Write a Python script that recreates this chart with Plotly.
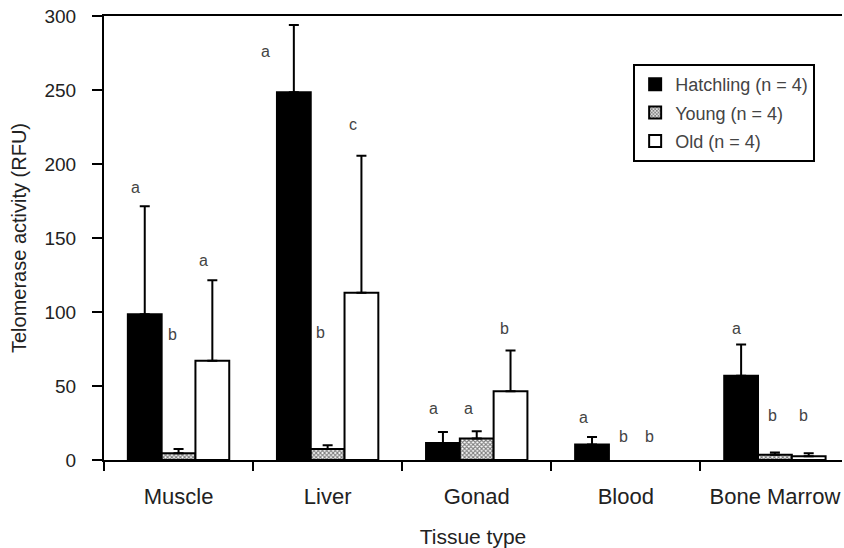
import plotly.graph_objects as go

tissues = ["Muscle", "Liver", "Gonad", "Blood", "Bone Marrow"]
series_names = ["Hatchling (n = 4)", "Young (n = 4)", "Old (n = 4)"]

hatchling = [98.5, 248.5, 11.5, 10.5, 57]
young = [4.5, 7.5, 14.5, None, 3.5]
old = [67, 113, 46.5, None, 2.5]

hatchling_err_top = [171.5, 294, 19, 15.5, 78]
young_err_top = [7.5, 10, 19.5, None, 5]
old_err_top = [121.5, 205.5, 74, None, 4.5]

# significance letters above the bars
letters_tissue = ["Muscle", "Muscle", "Muscle", "Liver", "Liver", "Liver",
                  "Gonad", "Gonad", "Gonad", "Blood", "Blood", "Blood",
                  "Bone Marrow", "Bone Marrow", "Bone Marrow"]
letters_text = ["a", "b", "a", "a", "b", "c", "a", "a", "b", "a", "b", "b", "a", "b", "b"]
letters_y = [184, 85, 135, 276, 86, 227, 34.5, 34.5, 89, 29, 16, 16, 89, 30, 30]
letters_dx = [-43, -6, 25, -62, -7, 25, -43, -8, 28, -42, -2, 24, -38, -2, 29]

values = [hatchling, young, old]
err_tops = [hatchling_err_top, young_err_top, old_err_top]
fills = ["black", "white", "white"]

fig = go.Figure()
for i, (name, vals, tops) in enumerate(zip(series_names, values, err_tops)):
    plus = [None if (t is None or v is None) else t - v for v, t in zip(vals, tops)]
    marker = dict(color=fills[i], line=dict(color="black", width=2))
    if i == 1:
        marker["pattern"] = dict(shape="x", size=3, solidity=0.6,
                                 fgcolor="black", bgcolor="white", fillmode="overlay")
    fig.add_trace(go.Bar(
        x=tissues, y=vals, name=name, marker=marker, legendgroup=f"g{i}",
        error_y=dict(type="data", symmetric=False, array=plus,
                     arrayminus=[0] * len(vals), color="black",
                     thickness=2, width=5),
    ))

for t, s, yv, dx in zip(letters_tissue, letters_text, letters_y, letters_dx):
    fig.add_annotation(x=t, y=yv, xref="x", yref="y", text=s, showarrow=False,
                       xshift=dx, font=dict(size=16, color="#444"))

fig.update_layout(
    width=844, height=548,
    margin=dict(l=104, r=2, t=16, b=88),
    paper_bgcolor="white", plot_bgcolor="white",
    barmode="group", bargap=0.32, bargroupgap=0,
    font=dict(family="Liberation Sans, Arial, sans-serif", color="#222"),
    showlegend=True,
    legend=dict(x=0.717, y=0.892, xanchor="left", yanchor="top",
                bordercolor="black", borderwidth=2, bgcolor="white",
                font=dict(size=18, color="#444"), itemwidth=30,
                traceorder="grouped", tracegroupgap=2),
)
fig.update_xaxes(
    range=[-0.5, 4.45], showline=True, linecolor="black", linewidth=2,
    mirror=True, ticks="outside", tickson="boundaries", ticklen=9,
    tickwidth=2, tickcolor="black", tickfont=dict(size=22, color="#222"),
    ticklabelstandoff=16, automargin=False,
    title=dict(text="Tissue type", font=dict(size=21, color="#222"), standoff=22),
    showgrid=False,
)
fig.update_yaxes(
    range=[0, 300], dtick=50, showline=True, linecolor="black", linewidth=2,
    ticks="outside", ticklen=10, tickwidth=2, tickcolor="black",
    tickfont=dict(size=19, color="#222"), ticklabelstandoff=12, automargin=False,
    title=dict(text="Telomerase activity (RFU)", font=dict(size=20, color="#222"), standoff=12),
    showgrid=False, zeroline=False,
)

fig.write_html("out.html", config={"displayModeBar": False},
               post_script="document.body.style.margin='0';")
